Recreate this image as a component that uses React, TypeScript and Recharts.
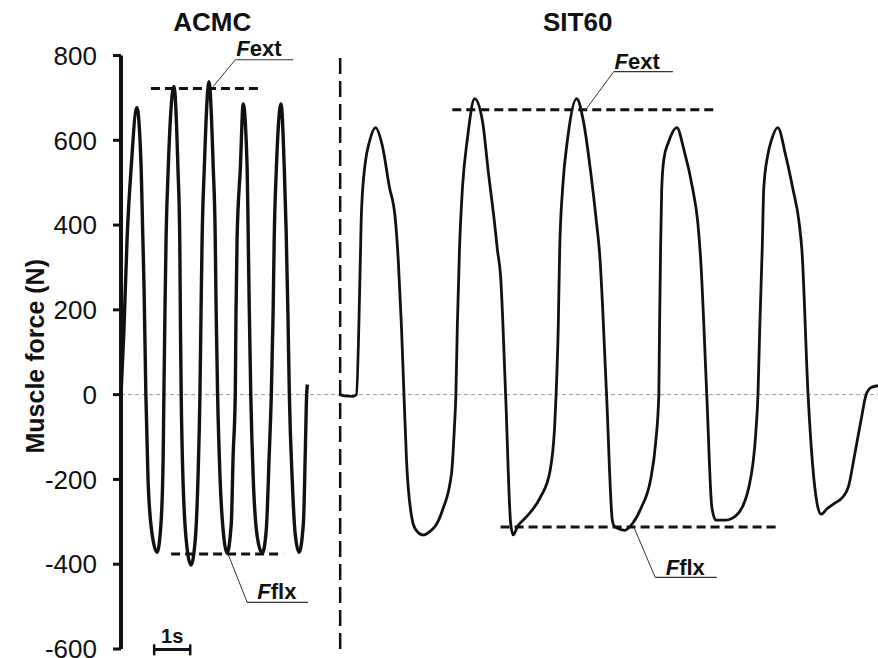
import { LineChart, Line, XAxis, YAxis, ReferenceLine, ReferenceDot } from "recharts";

const FONT = "'Liberation Sans', Arial, Helvetica, sans-serif";
const INK = "#111";

const yTicks = [-600, -400, -200, 0, 200, 400, 600, 800];

// [time (s), muscle force (N)]
const acmcPoints: [number, number][] = [
  [0, 0], [0.08, 150], [0.17, 370], [0.28, 533], [0.44, 677], [0.56, 533], [0.6, 390], [0.64, 250],
  [0.69, 0], [0.75, -201], [0.86, -327], [1.0, -372], [1.11, -303], [1.17, -146], [1.19, 0],
  [1.22, 200], [1.25, 367], [1.31, 533], [1.47, 727], [1.58, 533], [1.63, 367], [1.65, 155],
  [1.67, 0], [1.72, -201], [1.83, -360], [1.94, -402], [2.06, -342], [2.14, -185], [2.19, 0],
  [2.22, 194], [2.25, 367], [2.31, 533], [2.44, 738], [2.56, 533], [2.61, 391], [2.64, 194],
  [2.68, 0], [2.75, -201], [2.86, -342], [2.94, -374], [3.06, -303], [3.11, -146], [3.17, 0],
  [3.19, 194], [3.22, 367], [3.31, 533], [3.39, 686], [3.5, 533], [3.53, 367], [3.56, 194],
  [3.6, 0], [3.67, -201], [3.78, -335], [3.92, -374], [4.03, -319], [4.11, -146], [4.17, 0],
  [4.22, 194], [4.25, 367], [4.31, 533], [4.44, 686], [4.53, 533], [4.58, 391], [4.63, 194],
  [4.67, 0], [4.75, -201], [4.83, -327], [4.94, -372], [5.06, -303], [5.11, -146], [5.15, 0],
  [5.17, 24],
];

const sitPoints: [number, number][] = [
  [6.08, 0], [6.2, -3], [6.44, -4], [6.53, 0], [6.64, 320], [6.67, 430], [6.78, 549], [6.89, 596],
  [7.06, 630], [7.25, 587], [7.44, 492], [7.61, 414], [7.69, 320], [7.78, 161], [7.85, 0],
  [7.92, -154], [8.08, -296], [8.19, -320], [8.39, -331], [8.58, -322], [8.72, -310], [8.92, -272],
  [9.17, -185], [9.25, -76], [9.29, 0], [9.33, 161], [9.39, 343], [9.47, 485], [9.61, 604],
  [9.81, 698], [10.03, 644], [10.19, 525], [10.36, 407], [10.44, 343], [10.53, 280], [10.67, 0],
  [10.81, -304], [10.88, -331], [11.0, -311], [11.25, -288], [11.64, -241], [11.89, -185],
  [12.03, -75], [12.07, 0], [12.13, 161], [12.17, 343], [12.25, 485], [12.39, 604], [12.64, 698],
  [12.83, 644], [13.03, 525], [13.19, 407], [13.28, 330], [13.47, 0], [13.63, -296], [13.69, -311],
  [13.97, -320], [14.19, -304], [14.44, -265], [14.69, -201], [14.83, -115], [14.92, 0],
  [14.94, 158], [14.97, 350], [15.0, 485], [15.06, 556], [15.19, 596], [15.42, 630], [15.61, 580],
  [15.86, 485], [16.0, 407], [16.08, 320], [16.25, 0], [16.39, -265], [16.5, -296], [16.78, -296],
  [17.08, -284], [17.42, -217], [17.61, -90], [17.67, 0], [17.72, 158], [17.79, 350], [17.83, 485],
  [17.94, 564], [18.03, 596], [18.22, 630], [18.44, 564], [18.64, 485], [18.81, 407], [18.89, 340],
  [19.06, 0], [19.31, -257], [19.42, -282], [19.6, -268], [19.78, -257], [20.03, -241],
  [20.18, -217], [20.36, -138], [20.53, -60], [20.67, 0], [20.81, 17], [21.0, 21],
];

// Fext / Fflx levels: start time, end time, force
const levelLines = [
  { x1: 0.83, x2: 3.92, y: 722 },
  { x1: 1.39, x2: 4.5, y: -376 },
  { x1: 9.19, x2: 16.44, y: 672 },
  { x1: 10.53, x2: 18.19, y: -312 },
];

// callout text + leader line (underline from ux1..ux2 at uy, diagonal to px,py)
const callouts = [
  { sub: "ext", tx: 3.2, ty: 798, ux1: 3.17, ux2: 4.78, uy: 790, px: 2.56, py: 727 },
  { sub: "ext", tx: 13.69, ty: 769, ux1: 13.67, ux2: 15.31, uy: 762, px: 12.89, py: 672 },
  { sub: "flx", tx: 3.78, ty: -483, ux1: 3.5, ux2: 5.19, uy: -490, px: 2.97, py: -376 },
  { sub: "flx", tx: 15.11, ty: -426, ux1: 14.82, ux2: 16.53, uy: -431, px: 14.24, py: -315 },
];

const panelTitles = [
  { text: "ACMC", x: 2.53, y: 857 },
  { text: "SIT60", x: 12.67, y: 857 },
];

const splitTime = 6.08;

const acmcData = acmcPoints.map(([t, force]) => ({ t, force }));
const sitData = sitPoints.map(([t, force]) => ({ t, force }));

const Callout = (props: any) => {
  const { viewBox, sub } = props;
  return (
    <text x={viewBox.x} y={viewBox.y} fontFamily={FONT} fontSize={22} fontWeight="bold" fill={INK}>
      <tspan fontStyle="italic">F</tspan>
      <tspan>{sub}</tspan>
    </text>
  );
};

const PlainText = (props: any) => {
  const { viewBox, text, size } = props;
  return (
    <text x={viewBox.x} y={viewBox.y} textAnchor="middle" fontFamily={FONT} fontSize={size}
      fontWeight="bold" fill={INK}>
      {text}
    </text>
  );
};

const AxisTitle = (props: any) => {
  const { viewBox } = props;
  const x = viewBox.x + 44;
  const y = viewBox.y + viewBox.height / 2 + 4;
  return (
    <text x={x} y={y} transform={`rotate(-90, ${x}, ${y})`} textAnchor="middle"
      fontFamily={FONT} fontSize={25} fontWeight="bold" fill={INK}>
      Muscle force (N)
    </text>
  );
};

export default function App() {
  return (
    <div style={{ position: "absolute", left: 0, top: 0, width: 878, height: 658, background: "#fff" }}>
      <LineChart width={878} height={658} margin={{ top: 55.5, right: 0, bottom: 9, left: 0 }}>
        <XAxis type="number" dataKey="t" domain={[0, 21]} hide allowDataOverflow />
        <YAxis
          type="number"
          domain={[-600, 800]}
          ticks={yTicks}
          interval={0}
          width={121}
          allowDataOverflow
          axisLine={{ stroke: INK, strokeWidth: 4 }}
          tickLine={{ stroke: INK, strokeWidth: 3 }}
          tickSize={8}
          tickMargin={16}
          tick={{ fill: INK, fontSize: 26, fontFamily: FONT }}
          label={<AxisTitle />}
        />
        <ReferenceLine y={0} stroke="#9a9a9a" strokeWidth={1} strokeDasharray="4 3" />
        <ReferenceLine x={splitTime} stroke={INK} strokeWidth={2.5} strokeDasharray="16 7" />

        {levelLines.map((l, i) => (
          <ReferenceLine key={`lvl-${i}`} segment={[{ x: l.x1, y: l.y }, { x: l.x2, y: l.y }]}
            stroke={INK} strokeWidth={3} strokeDasharray="9 5" ifOverflow="visible" />
        ))}

        {callouts.map((c, i) => (
          <ReferenceLine key={`ul-${i}`} segment={[{ x: c.ux1, y: c.uy }, { x: c.ux2, y: c.uy }]}
            stroke="#333" strokeWidth={1.2} ifOverflow="visible" />
        ))}
        {callouts.map((c, i) => (
          <ReferenceLine key={`dg-${i}`} segment={[{ x: c.ux1, y: c.uy }, { x: c.px, y: c.py }]}
            stroke="#333" strokeWidth={1} ifOverflow="visible" />
        ))}
        {callouts.map((c, i) => (
          <ReferenceDot key={`tx-${i}`} x={c.tx} y={c.ty} r={0} stroke="none" fill="none"
            ifOverflow="visible" label={<Callout sub={c.sub} />} />
        ))}

        {panelTitles.map((p) => (
          <ReferenceDot key={p.text} x={p.x} y={p.y} r={0} stroke="none" fill="none"
            ifOverflow="visible" label={<PlainText text={p.text} size={26} />} />
        ))}

        {/* 1 s scale bar */}
        <ReferenceLine segment={[{ x: 0.92, y: -601 }, { x: 1.92, y: -601 }]} stroke={INK}
          strokeWidth={3} ifOverflow="visible" />
        <ReferenceLine segment={[{ x: 0.92, y: -589 }, { x: 0.92, y: -615 }]} stroke={INK}
          strokeWidth={2.5} ifOverflow="visible" />
        <ReferenceLine segment={[{ x: 1.92, y: -589 }, { x: 1.92, y: -615 }]} stroke={INK}
          strokeWidth={2.5} ifOverflow="visible" />
        <ReferenceDot x={1.42} y={-587} r={0} stroke="none" fill="none" ifOverflow="visible"
          label={<PlainText text="1s" size={20} />} />

        <Line data={acmcData} dataKey="force" type="monotone" stroke={INK} strokeWidth={3.4}
          dot={false} activeDot={false} isAnimationActive={false} />
        <Line data={sitData} dataKey="force" type="monotone" stroke={INK} strokeWidth={2.8}
          dot={false} activeDot={false} isAnimationActive={false} />
      </LineChart>
    </div>
  );
}
